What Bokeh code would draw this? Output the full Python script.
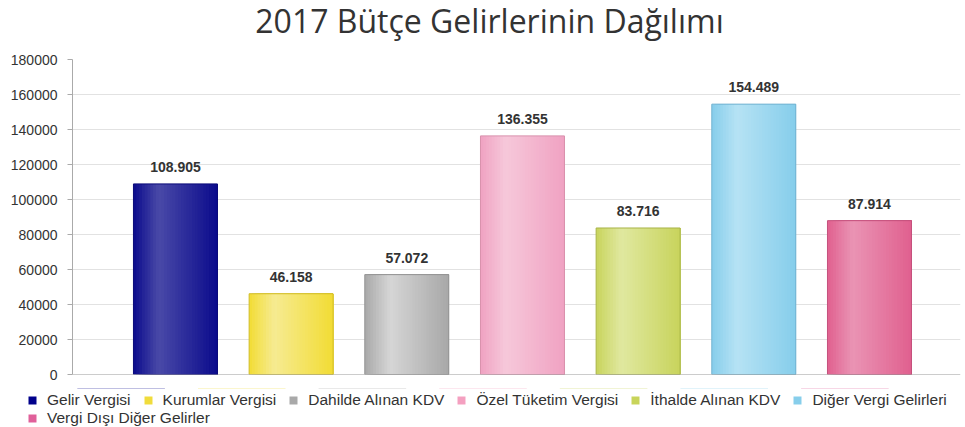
import numpy as np
from bokeh.plotting import figure
from bokeh.models import (ColumnDataSource, Range1d, FixedTicker, BasicTickFormatter,
                          Legend, LegendItem, Span)
from bokeh.core.properties import value
from bokeh.embed import file_html
from bokeh.resources import INLINE

# ---- data ----
categories = ["Gelir Vergisi", "Kurumlar Vergisi", "Dahilde Alınan KDV",
              "Özel Tüketim Vergisi", "İthalde Alınan KDV", "Diğer Vergi Gelirleri",
              "Vergi Dışı Diğer Gelirler"]
values = [108905, 46158, 57072, 136355, 83716, 154489, 87914]
y_ticks = [0, 20000, 40000, 60000, 80000, 100000, 120000, 140000, 160000, 180000]
title_text = "2017 Bütçe Gelirlerinin Dağılımı"

# ---- styles ----
base_colors = ["#0b0b8c", "#f2dc34", "#a8a8a8", "#f0a2c2", "#c8d45c", "#86cdeb", "#e0608f"]
light_colors = ["#4a4aa8", "#f6eb92", "#d6d6d6", "#f6c8da", "#e0e8a0", "#b6e3f4", "#ea94b4"]
edge_colors = ["#0a0a78", "#d0bc28", "#929292", "#d890ac", "#a8b446", "#70b2d0", "#c4507c"]
legend_colors = ["#00008b", "#f0dc3c", "#a9a9a9", "#f4a0c0", "#c8d45a", "#87ceeb", "#e0609a"]

BAR_W = 0.726
N_STRIPS = 30
FONT = "Liberation Sans"
W = 965


def hex_to_rgb(h):
    h = h.lstrip("#")
    return tuple(int(h[i:i + 2], 16) for i in (0, 2, 4))


def mix(c1, c2, f):
    a, b = hex_to_rgb(c1), hex_to_rgb(c2)
    return "#%02x%02x%02x" % tuple(int(round(a[j] + (b[j] - a[j]) * f)) for j in range(3))


def bare(fig):
    fig.outline_line_color = None
    fig.background_fill_color = "white"
    fig.border_fill_color = "white"
    fig.xgrid.visible = False
    fig.ygrid.visible = False
    return fig


idx = list(range(len(categories)))
labels = [f"{v:,}".replace(",", ".") for v in values]

# ---------- title strip ----------
TH = 50
t = bare(figure(width=W, height=TH, output_backend="svg", toolbar_location=None,
                title=None,
                x_range=Range1d(0, W), y_range=Range1d(0, TH),
                x_axis_location=None, y_axis_location=None,
                min_border=0))
t.text(x=[489], y=[TH - 20], text=[title_text], text_align="center",
       text_baseline="alphabetic", text_font=value("Open Sans"),
       text_font_size="32px", text_color="#333333")

# ---------- main chart ----------
p = figure(width=W, height=338, output_backend="svg", toolbar_location=None,
           x_range=Range1d(-0.890, 6.787), y_range=Range1d(0, 180000),
           min_border_left=72, min_border_right=5, min_border_top=9, min_border_bottom=14)
p.outline_line_color = None
p.background_fill_color = "white"
p.border_fill_color = "white"

p.xgrid.grid_line_color = None
p.ygrid.grid_line_color = "#e2e2e2"
p.ygrid.grid_line_width = 1
p.ygrid.ticker = FixedTicker(ticks=y_ticks)

p.yaxis.ticker = FixedTicker(ticks=y_ticks)
p.yaxis.formatter = BasicTickFormatter(use_scientific=False)
p.yaxis.axis_line_color = "#aaaaaa"
p.yaxis.major_tick_line_color = "#aaaaaa"
p.yaxis.major_tick_out = 5
p.yaxis.major_tick_in = 0
p.yaxis.minor_tick_line_color = None
p.yaxis.major_label_text_font = FONT
p.yaxis.major_label_text_font_size = "14px"
p.yaxis.major_label_text_color = "#333333"
p.yaxis.major_label_standoff = 10

p.xaxis.visible = False
p.add_layout(Span(location=0, dimension="width", line_color="#999999", line_width=1))

# gradient: overlapping layers, each from its left edge to the bar's right edge
sx, sw_, stop, scol = [], [], [], []
sw = BAR_W / N_STRIPS
for i in idx:
    right = i + BAR_W / 2
    for k in range(N_STRIPS):
        tt = (k + 0.5) / N_STRIPS
        f = tt / 0.3 if tt < 0.3 else 1 - (tt - 0.3) / 0.7
        f = max(0.0, min(1.0, f))
        left = i - BAR_W / 2 + k * sw
        sx.append((left + right) / 2)
        sw_.append(right - left)
        stop.append(values[i])
        scol.append(mix(base_colors[i], light_colors[i], f))
strip_src = ColumnDataSource(dict(x=sx, w=sw_, top=stop, color=scol))
p.vbar(x="x", top="top", width="w", bottom=0, source=strip_src,
       fill_color="color", line_color=None)

# outlines
out_src = ColumnDataSource(dict(x=idx, top=values, color=edge_colors))
p.vbar(x="x", top="top", width=BAR_W, bottom=0, source=out_src,
       fill_color=None, line_color="color", line_width=1)

# value labels
lab_src = ColumnDataSource(dict(x=idx, y=values, text=labels))
p.text(x="x", y="y", text="text", source=lab_src, text_align="center",
       text_baseline="bottom", y_offset=-12, text_font=value(FONT),
       text_font_size="14px", text_font_style="bold", text_color="#333333")

# ---------- legend strip ----------
LH = 39
# the legend's source bars sit well above this strip's visible area
lg_fig = bare(figure(width=W, height=LH, output_backend="svg", toolbar_location=None,
                     title=None,
                     x_range=Range1d(-1, 7), y_range=Range1d(-2e6, -1e6),
                     x_axis_location=None, y_axis_location=None, min_border=0))
leg_src = ColumnDataSource(dict(x=idx, top=values, color=legend_colors))
leg_r = lg_fig.vbar(x="x", top="top", width=BAR_W, bottom=0, source=leg_src,
                    fill_color="color", line_color=None)

items1 = [LegendItem(label=categories[i], renderers=[leg_r], index=i) for i in range(6)]
items2 = [LegendItem(label=categories[6], renderers=[leg_r], index=6)]
for items, loc in ((items1, (27, 18)), (items2, (27, 0))):
    lg = Legend(items=items, orientation="horizontal", location=loc,
                glyph_width=10, glyph_height=10, label_standoff=10, spacing=12,
                padding=0, margin=0, label_height=14,
                label_text_font=FONT, label_text_font_size="15.5px",
                label_text_color="#333333", border_line_color=None,
                background_fill_alpha=0)
    lg_fig.add_layout(lg)

open("out.html", "w").write(file_html([t, p, lg_fig], INLINE))
